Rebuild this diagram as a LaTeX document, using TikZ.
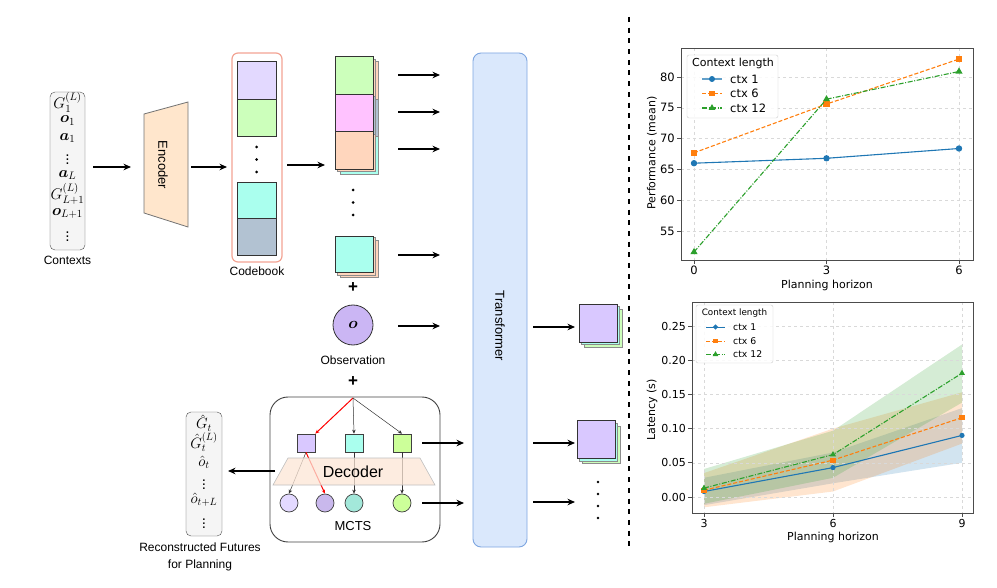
\RequirePackage{fix-cm}
\documentclass[tikz,border=0pt]{standalone}
\usepackage{amsmath,amsbsy}
\usepackage{fontspec}
\setmainfont{Liberation Sans}
\newfontfamily\plotfont{DejaVu Sans}
\usetikzlibrary{arrows.meta,plotmarks}
\definecolor{cLav}{HTML}{E3D9FF}
\definecolor{cLav2}{HTML}{D9C8FF}
\definecolor{cObs}{HTML}{CBB6F4}
\definecolor{cGreen}{HTML}{CCFFBB}
\definecolor{cGreen2}{HTML}{CCFF99}
\definecolor{cPink}{HTML}{FFC2FF}
\definecolor{cPeach}{HTML}{FFD6BD}
\definecolor{cCyan}{HTML}{AAFFEE}
\definecolor{cGrayB}{HTML}{B2C2D2}
\definecolor{cEnc}{HTML}{FFE6CC}
\definecolor{cCode}{HTML}{F2A393}
\definecolor{cTrF}{HTML}{DAE8FC}
\definecolor{cTrD}{HTML}{7EA6E0}
\definecolor{cDec}{HTML}{FCE6D6}
\definecolor{cC2}{HTML}{C9B8EC}
\definecolor{cC3}{HTML}{A3E8DA}
\definecolor{mBlue}{HTML}{1F77B4}
\definecolor{mOrange}{HTML}{FF7F0E}
\definecolor{mGreen}{HTML}{2CA02C}
\begin{document}
\begin{tikzpicture}[x=1pt,y=-1pt,
  arr/.style={-{Stealth[length=7.5pt,width=6.5pt]},line width=1.3pt},
  tarr/.style={-{Stealth[length=4pt,width=3.5pt]},line width=0.5pt},
  sqr/.style={draw=black!80,line width=0.8pt,inner sep=0pt,minimum width=38pt,minimum height=37.5pt},
  sqb/.style={draw=black!45,line width=0.5pt,inner sep=0pt,minimum width=38pt,minimum height=37.5pt},
  msq/.style={draw=black!75,line width=0.7pt,inner sep=0pt,minimum size=18pt},
  mc/.style={circle,draw=black!75,line width=0.7pt,inner sep=0pt,minimum size=18pt},
  lbl/.style={font=\fontsize{12}{14}\selectfont,inner sep=0pt},
  mth/.style={font=\fontsize{15.5}{17}\selectfont,inner sep=0pt},
  mthr/.style={font=\fontsize{15}{17}\selectfont,inner sep=0pt},
  dot/.style={circle,fill=black,inner sep=0pt,minimum size=3pt},
  tick/.style={font=\plotfont\fontsize{11.5}{13}\selectfont,inner sep=0pt},
  tickb/.style={font=\plotfont\fontsize{11}{13}\selectfont,inner sep=0pt},
  axl/.style={font=\plotfont\fontsize{11}{13}\selectfont,inner sep=0pt},
  grd/.style={draw=black!15,line width=0.5pt,dashed},
  frm/.style={draw=black!70,line width=0.8pt},
  l1/.style={mBlue,line width=1.1pt},
  l6/.style={mOrange,line width=1.1pt,dash pattern=on 4pt off 2pt},
  l12/.style={mGreen,line width=1.1pt,dash pattern=on 5pt off 1.6pt on 1pt off 1.6pt}
]
\useasboundingbox (0,0) rectangle (997,588);

% ---------- Contexts ----------
\node[draw=black!70,fill=black!4,rounded corners=5pt,minimum width=35pt,minimum height=158pt,inner sep=0pt] (ctx) at (67.5,171) {};
\node[mth] (c1) at (67.5,102) {$G_1^{(L)}$};
\node[mth] (c2) at (67.5,120.5) {$\boldsymbol{o}_1$};
\node[mth] (c3) at (67.5,138) {$\boldsymbol{a}_1$};
\node[mth] (c4) at (67.5,157) {$\vdots$};
\node[mth] (c5) at (67.5,175) {$\boldsymbol{a}_L$};
\node[mth] (c6) at (67.5,194) {$G_{L+1}^{(L)}$};
\node[mth] (c7) at (67.5,213.5) {$\boldsymbol{o}_{L+1}$};
\node[mth] (c8) at (67.5,234) {$\vdots$};
\node[lbl] (ctxl) at (67.5,260) {Contexts};

% ---------- Encoder ----------
\draw[fill=cEnc,draw=black!55,line width=0.8pt] (144,114) -- (188,102) -- (188,227) -- (144,213) -- cycle;
\node[rotate=-90,font=\fontsize{13}{15}\selectfont,inner sep=0pt] (enc) at (163,165) {Encoder};
\coordinate (e0s) at (93,167);
\coordinate (e0e) at (131,167);
\coordinate (e1s) at (191,167);
\coordinate (e1e) at (227,167);
\coordinate (e2s) at (287,165);
\coordinate (e2e) at (325,165);
\draw[arr] (e0s) -- (e0e);

% ---------- Codebook ----------
\node[draw=cCode,line width=1.2pt,rounded corners=6pt,minimum width=50pt,minimum height=209pt,inner sep=0pt] (cb) at (257,157.5) {};
\node[sqr,minimum width=39pt,minimum height=38pt,fill=cLav] (cb1) at (256.5,80) {};
\node[sqr,minimum width=39pt,minimum height=37pt,fill=cGreen] (cb2) at (256.5,117.5) {};
\node[dot] (cbd1) at (256.5,147) {};
\node[dot] (cbd2) at (256.5,159.5) {};
\node[dot] (cbd3) at (256.5,172) {};
\node[sqr,minimum width=39pt,minimum height=36pt,fill=cCyan] (cb3) at (256.5,200) {};
\node[sqr,minimum width=39pt,minimum height=37pt,fill=cGrayB] (cb4) at (256.5,236.5) {};
\node[lbl] (cbl) at (257,271) {Codebook};
\draw[arr] (e1s) -- (e1e);
\draw[arr] (e2s) -- (e2e);

% ---------- token stacks ----------
\node[sqb,fill=cCyan] (s3c) at (359,155.5) {};
\node[sqb,fill=cGrayB] (s2c) at (359,118) {};
\node[sqb,fill=cPeach] (s1c) at (359,80.5) {};
\node[sqb,fill=cPeach] (s3b) at (356.5,153) {};
\node[sqb,fill=cGrayB] (s2b) at (356.5,115.5) {};
\node[sqb,fill=cPeach] (s1b) at (356.5,78) {};
\node[sqr,fill=cPeach] (s3) at (354,150.5) {};
\node[sqr,fill=cPink] (s2) at (354,113) {};
\node[sqr,fill=cGreen] (s1) at (354,75.5) {};
\node[dot] (sd1) at (353,190) {};
\node[dot] (sd2) at (353,202.5) {};
\node[dot] (sd3) at (353,215) {};
\node[sqb,fill=cPeach] (s4c) at (359,259) {};
\node[sqb,fill=cPeach] (s4b) at (356.5,256.5) {};
\node[sqr,fill=cCyan,minimum height=36pt] (s4) at (354,254) {};
\node[font=\bfseries\fontsize{17}{17}\selectfont,inner sep=0pt] (plus1) at (353,288) {+};
\node[circle,draw=black!80,line width=0.8pt,fill=cObs,minimum size=40pt,inner sep=0pt,font=\fontsize{16}{18}\selectfont] (obs) at (353,325) {$\boldsymbol{o}$};
\node[lbl] (obsl) at (353,360) {Observation};
\node[font=\bfseries\fontsize{17}{17}\selectfont,inner sep=0pt] (plus2) at (353,382) {+};

\foreach \k/\yy in {1/75,2/112,3/149,4/255,5/326} {
  \coordinate (t\k s) at (398,\yy);
  \coordinate (t\k e) at (440,\yy);
  \draw[arr] (t\k s) -- (t\k e);
}

% ---------- Transformer ----------
\node[draw=cTrD,fill=cTrF,line width=0.9pt,rounded corners=8pt,minimum width=54pt,minimum height=494pt,inner sep=0pt] (tr) at (500,300) {};
\node[rotate=-90,font=\fontsize{13}{15}\selectfont,inner sep=0pt] (trl) at (500,326) {Transformer};

% outputs
\foreach \k/\yy in {1/327,2/443,3/502} {
  \coordinate (u\k s) at (533,\yy);
  \coordinate (u\k e) at (575,\yy);
  \draw[arr] (u\k s) -- (u\k e);
}
\node[sqb,fill=cGreen,minimum height=38pt] (o1c) at (603,328) {};
\node[sqb,fill=cCyan,minimum height=38pt] (o1b) at (600.5,325.5) {};
\node[sqr,fill=cLav2,minimum height=38pt] (o1) at (598,323) {};
\node[sqb,fill=cGreen] (o2c) at (601,444.5) {};
\node[sqb,fill=cCyan] (o2b) at (598.5,442) {};
\node[sqr,fill=cLav2] (o2) at (596,439.5) {};
\node[dot,minimum size=2.6pt] (od1) at (598,482) {};
\node[dot,minimum size=2.6pt] (od2) at (598,494) {};
\node[dot,minimum size=2.6pt] (od3) at (598,506) {};
\node[dot,minimum size=2.6pt] (od4) at (598,518) {};

% ---------- MCTS ----------
\node[draw=black!75,line width=0.9pt,rounded corners=18pt,minimum width=170pt,minimum height=145pt,inner sep=0pt] (mcts) at (355,469.5) {};
\coordinate (root) at (353,398);
\node[msq,fill=cLav2] (q1) at (306,443) {};
\node[msq,fill=cCyan] (q2) at (354,443) {};
\node[msq,fill=cGreen2] (q3) at (402,443) {};
\node[mc,fill=cLav] (m1) at (289,503) {};
\node[mc,fill=cC2] (m2) at (325,503) {};
\node[mc,fill=cC3] (m3) at (354,503) {};
\node[mc,fill=cGreen2] (m4) at (402,503) {};
\draw[tarr,red,line width=1pt] (root) -- (q1.north east);
\draw[tarr,black!80] (root) -- (q2.north);
\draw[tarr,black!80] (root) -- (q3.north);
\draw[tarr,black!80] (q1.south) -- (m1.north);
\draw[tarr,red,line width=1pt] (q1.south) -- (m2.north);
\draw[tarr,black!80] (q2.south) -- (m3.north);
\draw[tarr,black!80] (q3.south) -- (m4.north);
\fill[cDec,opacity=0.75] (288,458) -- (420,458) -- (435,485) -- (273,485) -- cycle;
\draw[draw=black!25,line width=0.6pt] (288,458) -- (420,458) -- (435,485) -- (273,485) -- cycle;
\node[font=\fontsize{16}{18}\selectfont,inner sep=0pt] (dec) at (353,472) {Decoder};
\node[font=\fontsize{13}{15}\selectfont,inner sep=0pt] (mctsl) at (353,526) {MCTS};
\coordinate (v1s) at (422,443);
\coordinate (v1e) at (464,443);
\coordinate (v2s) at (422,503);
\coordinate (v2e) at (464,503);
\draw[arr] (v1s) -- (v1e);
\draw[arr] (v2s) -- (v2e);

% ---------- Reconstructed ----------
\node[draw=black!70,fill=black!4,rounded corners=5pt,minimum width=36pt,minimum height=124pt,inner sep=0pt] (rec) at (204,474) {};
\node[mthr] (r1) at (204,423) {$\hat{G}_t$};
\node[mthr] (r2) at (204,442) {$\hat{G}_t^{(L)}$};
\node[mthr] (r3) at (204,462) {$\hat{o}_t$};
\node[mthr] (r4) at (204,482) {$\vdots$};
\node[mthr] (r5) at (204,500) {$\hat{o}_{t+L}$};
\node[mthr] (r6) at (204,521) {$\vdots$};
\coordinate (w1s) at (275,471);
\coordinate (w1e) at (228,471);
\draw[arr] (w1s) -- (w1e);
\node[lbl] (recl1) at (200,547) {Reconstructed Futures};
\node[lbl] (recl2) at (200,565) {for Planning};

% ---------- separator ----------
\coordinate (sepT) at (629,17);
\coordinate (sepB) at (629,548);
\draw[line width=2.6pt,dash pattern=on 5pt off 5.7pt] (sepT) -- (sepB);

% ---------- Plot 1 ----------
\foreach \xx in {694,826.5,959} \draw[grd] (\xx,48) -- (\xx,260);
\foreach \yy in {77,107.8,138.6,169.4,200.2,231} \draw[grd] (681,\yy) -- (973,\yy);
\draw[frm] (681,48) rectangle (973,260);
\foreach \xx/\t in {694/0,826.5/3,959/6} {
  \draw[frm] (\xx,260) -- (\xx,264);
  \node[tick,anchor=north] at (\xx,266) {\t};
}
\foreach \yy/\t in {77/80,107.8/75,138.6/70,169.4/65,200.2/60,231/55} {
  \draw[frm] (681,\yy) -- (677,\yy);
  \node[tick,anchor=east] at (675,\yy) {\t};
}
\node[axl] (p1x) at (827,285) {Planning horizon};
\node[axl,rotate=90] (p1y) at (652,153) {Performance (mean)};
\draw[l1] plot[mark=*,mark size=2.6pt,mark options={solid}] coordinates {(694,163.2) (826.5,158.3) (959,148.5)};
\draw[l6] plot[mark=square*,mark size=2.6pt,mark options={solid}] coordinates {(694,152.8) (826.5,104.1) (959,59.1)};
\draw[l12] plot[mark=triangle*,mark size=3pt,mark options={solid}] coordinates {(694,252) (826.5,99.2) (959,71.5)};
% legend 1
\node[draw=black!20,fill=white,fill opacity=0.85,rounded corners=2pt,minimum width=91pt,minimum height=63pt,inner sep=0pt] (leg1) at (732.5,86.5) {};
\node[font=\plotfont\fontsize{11}{12}\selectfont,inner sep=0pt] (leg1t) at (733,63) {Context length};
\draw[l1,mBlue!70] (702,79) -- (722,79);
\draw[l6] (702,93.5) -- (722,93.5);
\draw[l12] (702,108) -- (722,108);
\draw[l1] plot[mark=*,mark size=2.4pt,mark options={solid}] coordinates {(712,79)};
\draw[l6] plot[mark=square*,mark size=2.4pt,mark options={solid}] coordinates {(712,93.5)};
\draw[l12] plot[mark=triangle*,mark size=2.8pt,mark options={solid}] coordinates {(712,108)};
\node[font=\plotfont\fontsize{11.5}{13}\selectfont,anchor=west,inner sep=0pt] (leg1a) at (730,79) {ctx 1};
\node[font=\plotfont\fontsize{11.5}{13}\selectfont,anchor=west,inner sep=0pt] (leg1b) at (730,93.5) {ctx 6};
\node[font=\plotfont\fontsize{11.5}{13}\selectfont,anchor=west,inner sep=0pt] (leg1c) at (730,108) {ctx 12};

% ---------- Plot 2 ----------
\fill[mBlue,opacity=0.2] (704,477.8) -- (833,452.5) -- (962,408.1) -- (962,462.8) -- (833,483.3) -- (704,505.2) -- cycle;
\fill[mOrange,opacity=0.2] (704,473.1) -- (833,428.6) -- (962,392.3) -- (962,443.6) -- (833,491.5) -- (704,507.3) -- cycle;
\fill[mGreen,opacity=0.2] (704,469) -- (833,430.7) -- (962,344.5) -- (962,402.6) -- (833,477.8) -- (704,503.8) -- cycle;
\foreach \xx in {704,833,962} \draw[grd] (\xx,302) -- (\xx,513);
\foreach \yy in {326,360.2,394.4,428.6,462.8,497} \draw[grd] (692,\yy) -- (973,\yy);
\draw[frm] (692,302) rectangle (973,513);
\foreach \xx/\t in {704/3,833/6,962/9} {
  \draw[frm] (\xx,513) -- (\xx,517);
  \node[tickb,anchor=north] at (\xx,519) {\t};
}
\foreach \yy/\t in {326/0.25,360.2/0.20,394.4/0.15,428.6/0.10,462.8/0.05,497/0.00} {
  \draw[frm] (692,\yy) -- (688,\yy);
  \node[tickb,anchor=east] at (686,\yy) {\t};
}
\node[axl] (p2x) at (833,537) {Planning horizon};
\node[axl,rotate=90] (p2y) at (652,410) {Latency (s)};
\draw[l1] plot[mark=*,mark size=2pt,mark options={solid}] coordinates {(704,491.5) (833,467.6) (962,435.4)};
\draw[l6] plot[mark=square*,mark size=2pt,mark options={solid}] coordinates {(704,490.2) (833,460.1) (962,417.7)};
\draw[l12] plot[mark=triangle*,mark size=2.4pt,mark options={solid}] coordinates {(704,488.1) (833,454.6) (962,373.2)};
% legend 2
\node[draw=black!20,fill=white,fill opacity=0.85,rounded corners=2pt,minimum width=77pt,minimum height=58pt,inner sep=0pt] (leg2) at (734.5,334) {};
\node[font=\plotfont\fontsize{8.8}{10}\selectfont,inner sep=0pt] (leg2t) at (734.5,313) {Context length};
\draw[l1,line width=0.9pt] (706,327) -- (725,327);
\draw[l6,line width=0.9pt] (706,341) -- (725,341);
\draw[l12,line width=0.9pt] (706,354.5) -- (725,354.5);
\draw[l1] plot[mark=*,mark size=1.8pt,mark options={solid}] coordinates {(715.5,327)};
\draw[l6] plot[mark=square*,mark size=1.8pt,mark options={solid}] coordinates {(715.5,341)};
\draw[l12] plot[mark=triangle*,mark size=2.2pt,mark options={solid}] coordinates {(715.5,354.5)};
\node[font=\plotfont\fontsize{9.3}{11}\selectfont,anchor=west,inner sep=0pt] (leg2a) at (733,327) {ctx 1};
\node[font=\plotfont\fontsize{9.3}{11}\selectfont,anchor=west,inner sep=0pt] (leg2b) at (733,341) {ctx 6};
\node[font=\plotfont\fontsize{9.3}{11}\selectfont,anchor=west,inner sep=0pt] (leg2c) at (733,354.5) {ctx 12};
\end{tikzpicture}
\end{document}
